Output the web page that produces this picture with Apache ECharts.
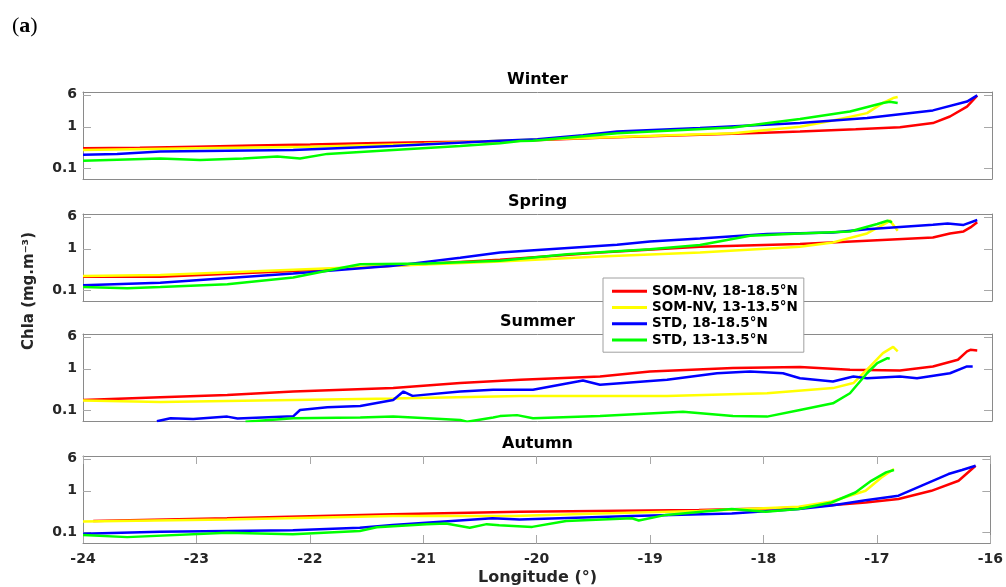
<!DOCTYPE html>
<html>
<head>
<meta charset="utf-8">
<script src="https://cdn.jsdelivr.net/npm/echarts@6/dist/echarts.min.js"></script>
<style>html,body{margin:0;padding:0;background:#fff}#c{width:1006px;height:587px}</style>
</head>
<body>
<div id="c"></div>
<script>
// ---------------- DATA ----------------
const seasons = ['Winter', 'Spring', 'Summer', 'Autumn'];
const seriesNames = ['SOM-NV, 18-18.5°N', 'SOM-NV, 13-13.5°N', 'STD, 18-18.5°N', 'STD, 13-13.5°N'];
const xTicks = [-24, -23, -22, -21, -20, -19, -18, -17, -16];
const yTicks = [0.1, 1, 6];

// Winter
const winterSomNv18 = [[-24,0.30],[-23.5,0.31],[-23,0.33],[-22.5,0.35],[-22,0.37],[-21.5,0.40],[-21,0.42],[-20.5,0.44],[-20.15,0.46],[-19.45,0.54],[-18.57,0.64],[-18,0.72],[-17.69,0.77],[-17.2,0.87],[-16.81,0.98],[-16.52,1.23],[-16.37,1.78],[-16.22,3.1],[-16.13,5.7]];
const winterSomNv13 = [[-24,0.275],[-23,0.30],[-22,0.33],[-21,0.39],[-20.33,0.46],[-19.45,0.55],[-18.28,0.70],[-17.69,1.0],[-17.4,1.42],[-17.1,2.15],[-16.96,3.8],[-16.87,5.0],[-16.83,5.3]];
const winterStd18 = [[-24,0.21],[-23.7,0.22],[-23.32,0.25],[-22.15,0.275],[-21.27,0.34],[-20.39,0.455],[-20,0.50],[-19.6,0.62],[-19.3,0.77],[-18.57,0.93],[-17.69,1.23],[-17.1,1.63],[-16.52,2.5],[-16.22,4.1],[-16.13,5.8]];
const winterStd13 = [[-24,0.15],[-23.32,0.17],[-22.97,0.157],[-22.59,0.17],[-22.29,0.19],[-22.09,0.17],[-21.85,0.22],[-21.27,0.275],[-20.68,0.34],[-20.33,0.40],[-20.15,0.455],[-20.04,0.46],[-19.3,0.70],[-18.28,0.96],[-17.69,1.54],[-17.25,2.36],[-16.96,3.8],[-16.9,4.06],[-16.83,3.8]];

// Spring
const springSomNv18 = [[-24,0.21],[-23.32,0.21],[-22.15,0.29],[-21.27,0.385],[-20.33,0.54],[-19.45,0.81],[-18.57,1.12],[-17.69,1.30],[-17.1,1.57],[-16.52,1.89],[-16.37,2.36],[-16.25,2.64],[-16.19,3.3],[-16.13,4.4]];
const springSomNv13 = [[-24,0.22],[-23.32,0.23],[-22.15,0.31],[-21.27,0.385],[-20.33,0.49],[-19.45,0.65],[-18.57,0.81],[-17.69,1.12],[-17.4,1.43],[-17.1,2.36],[-16.92,4.4],[-16.9,4.9],[-16.83,2.75]];
const springStd18 = [[-24,0.13],[-23.32,0.15],[-22.15,0.25],[-21.27,0.385],[-20.68,0.61],[-20.33,0.81],[-19.3,1.25],[-19.01,1.5],[-18.57,1.78],[-17.98,2.28],[-17.4,2.5],[-17.1,3.0],[-16.52,3.85],[-16.39,4.1],[-16.25,3.8],[-16.13,5.0]];
const springStd13 = [[-24,0.118],[-23.61,0.11],[-23.32,0.118],[-22.73,0.138],[-22.15,0.2],[-21.71,0.35],[-21.56,0.42],[-20.97,0.44],[-20.33,0.51],[-19.74,0.74],[-19.01,0.98],[-18.57,1.23],[-18.13,2.07],[-17.69,2.36],[-17.25,2.64],[-17.01,4.0],[-16.92,4.8],[-16.88,4.4]];

// Summer
const summerSomNv18 = [[-24,0.175],[-23.32,0.205],[-22.73,0.23],[-22.15,0.28],[-21.27,0.34],[-20.68,0.45],[-20.15,0.54],[-19.45,0.65],[-19.01,0.86],[-18.28,1.04],[-17.69,1.1],[-17.25,0.95],[-16.81,0.91],[-16.52,1.14],[-16.3,1.66],[-16.22,2.64],[-16.19,2.9],[-16.13,2.8]];
const summerSomNv13 = [[-24,0.17],[-23.32,0.157],[-22.15,0.175],[-21.27,0.19],[-20.15,0.22],[-18.86,0.22],[-17.98,0.255],[-17.4,0.34],[-17.22,0.45],[-17.1,0.95],[-16.96,2.4],[-16.87,3.4],[-16.83,2.64]];
const summerStd18 = [[-23.35,0.053],[-23.23,0.063],[-23.03,0.06],[-22.73,0.069],[-22.64,0.062],[-22.15,0.07],[-22.09,0.1],[-21.85,0.116],[-21.56,0.125],[-21.27,0.175],[-21.18,0.28],[-21.10,0.22],[-20.68,0.28],[-20.39,0.31],[-20.04,0.31],[-19.6,0.52],[-19.45,0.41],[-18.86,0.54],[-18.42,0.78],[-18.13,0.86],[-17.84,0.78],[-17.69,0.59],[-17.4,0.49],[-17.22,0.65],[-17.1,0.59],[-16.81,0.65],[-16.66,0.59],[-16.37,0.78],[-16.22,1.14],[-16.17,1.14]];
const summerStd13 = [[-22.57,0.052],[-22.15,0.063],[-21.56,0.066],[-21.27,0.069],[-20.97,0.063],[-20.68,0.057],[-20.62,0.052],[-20.39,0.066],[-20.33,0.071],[-20.18,0.075],[-20.04,0.063],[-19.45,0.071],[-18.72,0.09],[-18.28,0.071],[-17.98,0.069],[-17.69,0.1],[-17.4,0.145],[-17.25,0.255],[-17.1,0.78],[-17.01,1.38],[-16.92,1.82],[-16.9,1.75]];

// Autumn
const autumnSomNv18 = [[-23.91,0.185],[-22.73,0.215],[-21.27,0.27],[-20.15,0.31],[-18.57,0.34],[-17.69,0.39],[-17.1,0.52],[-16.81,0.63],[-16.52,1.0],[-16.28,1.75],[-16.13,4.06]];
const autumnSomNv13 = [[-24,0.18],[-22.73,0.2],[-21.27,0.245],[-20.2,0.245],[-19.45,0.28],[-18.57,0.325],[-17.69,0.41],[-17.4,0.55],[-17.1,1.0],[-16.96,2.1],[-16.85,3.4]];
const autumnStd18 = [[-24,0.09],[-23.32,0.102],[-22.15,0.11],[-21.56,0.127],[-21.27,0.148],[-20.39,0.215],[-20.15,0.2],[-19.16,0.245],[-18.28,0.28],[-17.69,0.36],[-17.4,0.44],[-17.1,0.59],[-16.81,0.76],[-16.61,1.32],[-16.37,2.55],[-16.25,3.2],[-16.13,4.06]];
const autumnStd13 = [[-24,0.085],[-23.61,0.075],[-22.73,0.096],[-22.15,0.088],[-21.56,0.106],[-21.41,0.13],[-20.97,0.155],[-20.8,0.16],[-20.59,0.127],[-20.44,0.155],[-20.33,0.145],[-20.04,0.133],[-19.74,0.185],[-19.16,0.215],[-19.1,0.19],[-18.86,0.26],[-18.28,0.36],[-17.98,0.31],[-17.69,0.36],[-17.4,0.52],[-17.19,0.91],[-17.05,1.75],[-16.92,2.8],[-16.85,3.2]];

const panelData = [
  [winterSomNv18, winterSomNv13, winterStd18, winterStd13],
  [springSomNv18, springSomNv13, springStd18, springStd13],
  [summerSomNv18, summerSomNv13, summerStd18, summerStd13],
  [autumnSomNv18, autumnSomNv13, autumnStd18, autumnStd13]
];

// ---------------- STYLE / LAYOUT ----------------
const colors = ['#ff0000', '#ffff00', '#0000ff', '#00ff00'];
const FONT = 'DejaVu Sans';
const gridTops = [92, 214, 334, 456];
const gridH = 87;
const gLeft = 83, gRight = 14;
const centerX = gLeft + (1006 - gLeft - gRight) / 2;
const boxColor = '#8a8a8a';
const tickColor = '#a8a8a8';
const textColor = '#262626';

const grid = gridTops.map(t => ({ left: gLeft, right: gRight, top: t, height: gridH }));
const xAxis = [];
const yAxis = [];
gridTops.forEach((t, i) => {
  const isLast = i === gridTops.length - 1;
  ['bottom', 'top'].forEach(pos => {
    xAxis.push({
      type: 'value', gridIndex: i, position: pos, min: -24, max: -16, interval: 1,
      axisLine: { show: true, onZero: false, lineStyle: { color: boxColor, width: 1 } },
      axisTick: { show: isLast, inside: true, length: 8, lineStyle: { color: tickColor } },
      axisLabel: {
        show: isLast && pos === 'bottom', margin: 9,
        color: textColor, fontFamily: FONT, fontWeight: 'bold', fontSize: 14,
        formatter: v => String(v)
      },
      splitLine: { show: false }
    });
  });
  ['left', 'right'].forEach(pos => {
    yAxis.push({
      type: 'log', logBase: 10, gridIndex: i, position: pos, min: 0.054, max: 7,
      axisLine: { show: true, onZero: false, lineStyle: { color: boxColor, width: 1 } },
      axisTick: { show: true, inside: true, length: 8, customValues: yTicks, lineStyle: { color: tickColor } },
      axisLabel: {
        show: pos === 'left', margin: 6, customValues: yTicks,
        color: textColor, fontFamily: FONT, fontWeight: 'bold', fontSize: 14,
        formatter: v => (v < 0.5 ? '0.1' : String(Math.round(v)))
      },
      splitLine: { show: false }, minorTick: { show: false }
    });
  });
});

const series = [];
panelData.forEach((arrs, i) => {
  arrs.forEach((d, k) => {
    series.push({
      type: 'line', name: seriesNames[k], xAxisIndex: 2 * i, yAxisIndex: 2 * i,
      data: d, showSymbol: false, symbol: 'none', smooth: false,
      color: colors[k], lineStyle: { color: colors[k], width: 2.5 },
      clip: true, z: 2 + k
    });
  });
});

const graphic = [];
seasons.forEach((s, i) => {
  graphic.push({
    type: 'text', x: centerX, y: gridTops[i] - 12, z: 10,
    style: { text: s, fill: '#000', font: 'bold 16px "DejaVu Sans"', align: 'center', verticalAlign: 'middle' }
  });
});
graphic.push({
  type: 'text', x: centerX, y: 578, z: 10,
  style: { text: 'Longitude (°)', fill: textColor, font: 'bold 16px "DejaVu Sans"', align: 'center', verticalAlign: 'middle' }
});
graphic.push({
  type: 'text', x: 29, y: 291, rotation: Math.PI / 2, z: 10,
  style: { text: 'Chla (mg.m⁻³)', fill: textColor, font: 'bold 15px "DejaVu Sans"', align: 'center', verticalAlign: 'middle' }
});
graphic.push({
  type: 'text', x: 12, y: 15, z: 10,
  style: {
    text: '{p|(}{b|a}{p|)}', fill: '#000',
    rich: {
      p: { fontFamily: 'Liberation Serif', fontSize: 22, fill: '#000' },
      b: { fontFamily: 'Liberation Serif', fontSize: 22, fontWeight: 'bold', fill: '#000' }
    }
  }
});

const option = {
  animation: false,
  backgroundColor: '#ffffff',
  grid, xAxis, yAxis, series, graphic,
  legend: {
    data: seriesNames, orient: 'vertical', left: 603, top: 278,
    icon: 'rect', itemWidth: 35, itemHeight: 3, itemGap: 0,
    padding: [5, 6, 4, 9],
    backgroundColor: '#ffffff', borderColor: '#a0a0a0', borderWidth: 1, borderRadius: 0,
    textStyle: { fontFamily: FONT, fontWeight: 'bold', fontSize: 13.5, color: '#000', lineHeight: 16.3 },
    selectedMode: false, z: 20
  }
};

const chart = echarts.init(document.getElementById('c'), null, { renderer: 'canvas' });
chart.setOption(option);
</script>
</body>
</html>
